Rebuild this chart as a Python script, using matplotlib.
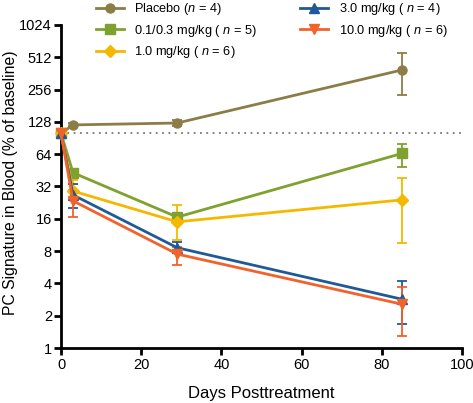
import matplotlib
matplotlib.use("Agg")
import matplotlib.pyplot as plt
import numpy as np

plt.rcParams['font.family'] = ['Liberation Sans', 'DejaVu Sans']
plt.rcParams['mathtext.fontset'] = 'custom'
plt.rcParams['mathtext.it'] = 'Liberation Sans:italic'
plt.rcParams['mathtext.rm'] = 'Liberation Sans'

days = [0, 3, 29, 85]

labels = [r"Placebo ($\it{n}$ = 4)",
          r"0.1/0.3 mg/kg ( $\it{n}$ = 5)",
          r"1.0 mg/kg ( $\it{n}$ = 6)",
          r"3.0 mg/kg ( $\it{n}$ = 4)",
          r"10.0 mg/kg ( $\it{n}$ = 6)"]

placebo = [100, 120, 125, 390]
placebo_hi = [100, 124, 134, 560]
placebo_lo = [100, 116, 117, 228]

low = [100, 43, 16.6, 65]
low_hi = [100, 45, 17.8, 80]
low_lo = [100, 41, 15.5, 49]

mid = [100, 29, 15, 24]
mid_hi = [100, 37, 21.7, 38]
mid_lo = [100, 25, 10.2, 9.5]

high = [100, 26.7, 8.6, 2.85]
high_hi = [100, 34, 9.7, 4.2]
high_lo = [100, 20, 8.2, 1.67]

top = [100, 23.5, 7.5, 2.56]
top_hi = [100, 30, 8.8, 3.7]
top_lo = [100, 16.8, 5.9, 1.3]

colors = ['#8C7D47', '#7FA22F', '#F4B800', '#1F5A96', '#F2622B']
markers = ['o', 's', 'D', '^', 'v']
msizes = [6.5, 6.5, 6, 7, 7]

series = [(placebo, placebo_lo, placebo_hi), (low, low_lo, low_hi), (mid, mid_lo, mid_hi),
          (high, high_lo, high_hi), (top, top_lo, top_hi)]

fig = plt.figure(figsize=(4.73, 4.03), dpi=100)
ax = fig.add_axes([61/473, 1-348/403, (462-61)/473, (348-25)/403])

ax.plot([0, 100], [100, 100], linestyle=(0, (1, 2.5)), color='#777777', lw=1.3, zorder=1)

handles = []
for (v, lo, hi), c, m, ms, lab in zip(series, colors, markers, msizes, labels):
    v = np.array(v); lo = np.array(lo); hi = np.array(hi)
    ax.errorbar(days[1:], v[1:], yerr=[v[1:] - lo[1:], hi[1:] - v[1:]], fmt='none',
                ecolor=c, elinewidth=1.3, capsize=3.5, capthick=1.3, zorder=2)
    h, = ax.plot(days, v, color=c, marker=m, markersize=ms, lw=2, label=lab, zorder=3,
                 clip_on=False)
    handles.append(h)

ax.set_yscale('log', base=2)
ax.set_ylim(1, 1024)
ax.set_xlim(0, 100)
yt = [1, 2, 4, 8, 16, 32, 64, 128, 256, 512, 1024]
ax.set_yticks(yt)
ax.set_yticklabels([str(t) for t in yt])
ax.yaxis.set_minor_locator(matplotlib.ticker.NullLocator())
ax.set_xticks([0, 20, 40, 60, 80, 100])

for s in ['top', 'right']:
    ax.spines[s].set_visible(False)
for s in ['left', 'bottom']:
    ax.spines[s].set_linewidth(2)
ax.tick_params(axis='both', width=2, length=5, labelsize=10.5, direction='out', pad=2)
ax.tick_params(axis='y', pad=1.5)

ax.set_xlabel('Days Posttreatment', fontsize=12, labelpad=10)
ax.set_ylabel('PC Signature in Blood (% of baseline)', fontsize=11.3)
ax.yaxis.set_label_coords(-0.108, 0.512)

leg = fig.legend(handles=handles, ncol=2, loc='upper left', bbox_to_anchor=(95/473, 0.999),
                 frameon=False, fontsize=9.2, handlelength=2.2, handletextpad=0.8,
                 columnspacing=3.4, labelspacing=0.43, borderaxespad=0, borderpad=0.05)

fig.savefig('out.png', dpi=100)
